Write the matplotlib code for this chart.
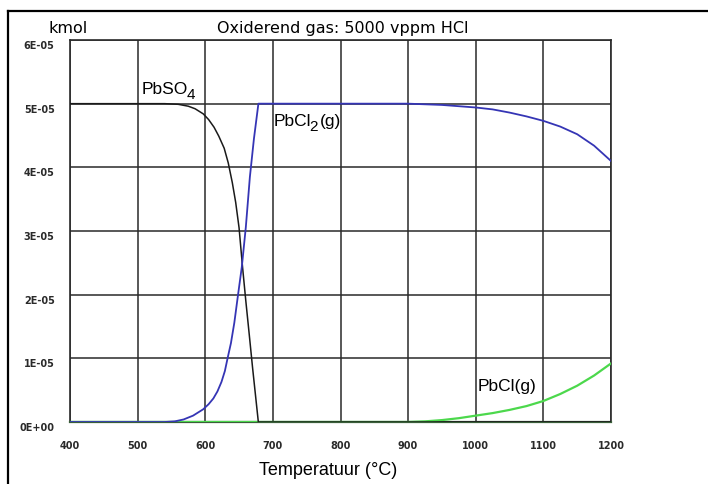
import matplotlib
matplotlib.use("Agg")
import matplotlib.pyplot as plt
from matplotlib.lines import Line2D
from matplotlib.transforms import offset_copy

plt.rcParams['font.family'] = ['Liberation Sans', 'DejaVu Sans']

# amounts in 1E-05 kmol, read per temperature (°C)
t_pbso4 = [400, 500, 540, 560, 575, 585, 597, 605, 613, 620, 628, 634, 640, 645,
           650, 655, 660, 665, 670, 675, 678.5, 1200]
pbso4 = [5.0, 5.0, 5.0, 4.99, 4.96, 4.92, 4.84, 4.75, 4.63, 4.49, 4.3, 4.07, 3.76,
         3.45, 3.05, 2.45, 1.9, 1.38, 0.85, 0.35, 0.0, 0.0]

t_pbcl2 = [400, 540, 555, 568, 582, 597, 605, 612, 618, 624, 629, 633, 638, 643,
           648, 654, 660, 666, 672, 678.6,
           800, 900, 925, 950, 975, 1000, 1025, 1050, 1075, 1100, 1125, 1150, 1175, 1200]
pbcl2 = [0.0, 0.0, 0.01, 0.04, 0.1, 0.2, 0.28, 0.37, 0.48, 0.63, 0.8, 1.0, 1.24, 1.56,
         1.96, 2.43, 3.06, 3.85, 4.45, 5.0,
         5.0, 5.0, 4.99, 4.98, 4.96, 4.94, 4.91, 4.86, 4.8, 4.73, 4.64, 4.52, 4.34, 4.1]

t_pbcl = [400, 900, 925, 950, 975, 1000, 1025, 1050, 1075, 1100, 1125, 1150, 1175, 1200]
pbcl = [0.0, 0.0, 0.01, 0.03, 0.06, 0.1, 0.14, 0.19, 0.25, 0.33, 0.44, 0.57, 0.73, 0.92]

xticks = [400, 500, 600, 700, 800, 900, 1000, 1100, 1200]
yticks = [0, 1, 2, 3, 4, 5, 6]
ylabels = ['0E+00', '1E-05', '2E-05', '3E-05', '4E-05', '5E-05', '6E-05']

W, H = 708, 485
fig = plt.figure(figsize=(W / 100, H / 100), dpi=100)
fig.patch.set_facecolor('white')
ax = fig.add_axes([70 / W, 1 - 423 / H, (611 - 70) / W, (423 - 41) / H])

ax.plot(t_pbcl, pbcl, color='#4cd84c', lw=1.6, zorder=3)
ax.plot(t_pbso4, pbso4, color='#1a1a1a', lw=1.1, zorder=4)
ax.plot(t_pbcl2, pbcl2, color='#3535b5', lw=1.3, zorder=5)

ax.set_xlim(400, 1200)
ax.set_ylim(0, 6)
ax.set_xticks(xticks)
ax.set_yticks(yticks)
ax.set_yticklabels(ylabels)
ax.grid(True, color='#2a2a2a', lw=1.1)
ax.set_axisbelow(True)
for s in ax.spines.values():
    s.set_color('#2a2a2a')
    s.set_linewidth(1.2)
ax.spines['bottom'].set_color('#3a5f3a')
ax.spines['bottom'].set_linewidth(1.6)
ax.tick_params(length=0, colors='#2a2a2a')
ax.tick_params(axis='y', pad=11)
ax.tick_params(axis='x', pad=13)
for lab in ax.get_yticklabels() + ax.get_xticklabels():
    lab.set_fontfamily('DejaVu Sans')
    lab.set_fontweight('bold')
    lab.set_fontsize(7)
for lab in ax.get_yticklabels():
    lab.set_va('top')

fig.text(328 / W, 1 - 475 / H, 'Temperatuur (°C)', fontsize=13,
         va='baseline', ha='center')

renderer = fig.canvas.get_renderer()


def label(x, y, parts, size=12.5):
    # parts: list of (text, is_subscript); pieces are laid out left to right
    dx = 0
    for txt, sub in parts:
        if sub:
            dx -= 1.5
        tr = offset_copy(ax.transData, fig=fig, x=dx, y=-4.4 if sub else 0, units='dots')
        t = ax.text(x, y, txt, fontsize=11 if sub else size, va='baseline',
                    ha='left', transform=tr, zorder=6)
        dx += t.get_window_extent(renderer).width + (1.5 if sub else 0)


label(506, 5.16, [('PbSO', False), ('4', True)])
label(701, 4.66, [('PbCl', False), ('2', True), ('(g)', False)])
label(1003, 0.51, [('PbCl(g)', False)])

fig.text(48 / W, 1 - 33 / H, 'kmol', fontsize=11.5, family='DejaVu Sans',
         va='baseline', ha='left')
fig.text(343 / W, 1 - 33 / H, 'Oxiderend gas: 5000 vppm HCl', fontsize=11.5,
         family='DejaVu Sans', va='baseline', ha='center')

# frame around the figure (left and top edges)
fig.add_artist(Line2D([8 / W, 8 / W], [0, 1 - 12 / H], transform=fig.transFigure,
                      color='black', lw=1.6))
fig.add_artist(Line2D([8 / W, 1], [1 - 12 / H, 1 - 12 / H], transform=fig.transFigure,
                      color='black', lw=1.6))

fig.savefig('out.png', dpi=100)
